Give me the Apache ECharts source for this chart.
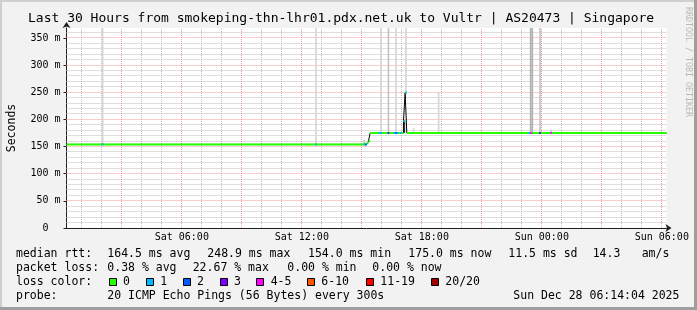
<!DOCTYPE html>
<html><head><meta charset="utf-8">
<script src="https://cdn.jsdelivr.net/npm/echarts@6/dist/echarts.min.js"></script>
<style>html,body{margin:0;padding:0;background:#f2f2f2}#c{width:697px;height:310px}</style>
</head><body><div id="c"></div>
<script>
// ---------- data ----------
const titleText = 'Last 30 Hours from smokeping-thn-lhr01.pdx.net.uk to Vultr | AS20473 | Singapore';
const xMinHour = 0.2344;          // Sat 00:14:04 (hours since Sat 00:00)
const xMaxHour = 30.2344;         // Sun 06:14:04
const stepHours = 1 / 12;         // 300 s step
const xLabelHours = [6, 12, 18, 24, 30];
const xLabelTexts = ['Sat 06:00', 'Sat 12:00', 'Sat 18:00', 'Sun 00:00', 'Sun 06:00'];
const xGridHours = [1,2,3,4,5,6,7,8,9,10,11,12,13,14,15,16,17,18,19,20,21,22,23,24,25,26,27,28,29,30];
const xMajorEvery = 3;
const yMax = 368.4;
const yMajorValues = [0, 50, 100, 150, 200, 250, 300, 350];
const yGridValues = [10,20,30,40,50,60,70,80,90,100,110,120,130,140,150,160,170,180,190,200,210,220,230,240,250,260,270,280,290,300,310,320,330,340,350,360];
const yUnit = 'm';
const yAxisName = 'Seconds';
// median rtt (ms) change points: [hour, ms]
const medianSteps = [
  [0.2344, 154], [15.25, 157], [15.3333, 160], [15.4167, 175],
  [17.0833, 197], [17.1667, 249], [17.25, 175], [30.2344, 175]
];
// loss-coloured median steps: [hour, ms, lossClass]
const lossSteps = [
  [2.0, 154, 1], [12.6667, 154, 1], [15.0833, 154, 1], [15.1667, 154, 2],
  [15.8333, 175, 1], [15.9167, 175, 1], [16.29, 175, 3],
  [16.5833, 175, 1], [16.6667, 175, 2], [16.75, 175, 1], [16.9167, 175, 1],
  [17.0833, 197, 1], [17.1667, 249, 1],
  [23.3333, 175, 1], [23.4167, 175, 4], [23.87, 175, 3], [24.4167, 175, 4]
];
// smoke: [hour, low ms, high ms, shade]
const smokeSteps = [
  [2.0, 154, 368.4, 0], [12.6667, 154, 368.4, 0], [15.0833, 154, 162, 1],
  [15.9167, 175, 368.4, 0], [16.29, 175, 368.4, 1], [16.6667, 175, 368.4, 0],
  [17.0833, 175, 197, 3], [17.1667, 249, 368.4, 0], [17.55, 175, 184, 0],
  [18.8, 175, 250, 0], [23.4, 175, 368.4, 2], [23.4833, 175, 368.4, 2],
  [23.87, 175, 368.4, 1], [24.4167, 175, 180, 1]
];
const smokeShades = ['#d6d6d6', '#c4c4c4', '#b0b0b0', '#3a3a3a'];
const lossColors = ['#26ff00', '#00b8ff', '#0059ff', '#7e00ff', '#ff00ff', '#ff5500', '#ff0000', '#a10000'];
const lossLabels = ['0', '1', '2', '3', '4-5', '6-10', '11-19', '20/20'];
const rttStats = ['164.5 ms avg', '248.9 ms max', '154.0 ms min', '175.0 ms now', '11.5 ms sd', '14.3', 'am/s'];
const lossStats = ['0.38 % avg', '22.67 % max', '0.00 % min', '0.00 % now'];
const probeText = '20 ICMP Echo Pings (56 Bytes) every 300s';
const dateText = 'Sun Dec 28 06:14:04 2025';
const watermark = 'RRDTOOL / TOBI OETIKER';

// ---------- layout / styles ----------
const MONO = '"DejaVu Sans Mono", monospace';
const minorGrid = '#bdbdbd';
const majorGrid = '#ee9a9a';

const gridItems = [];
xGridHours.forEach(h => gridItems.push([0, h, h % xMajorEvery === 0 ? 1 : 0]));
yGridValues.forEach(v => gridItems.push([1, v, yMajorValues.indexOf(v) >= 0 ? 1 : 0]));

const runs = [];
for (let i = 0; i < medianSteps.length - 1; i++) {
  runs.push([medianSteps[i][0], medianSteps[i + 1][0], medianSteps[i][1]]);
}

function txt(x, y, s, extra) {
  return Object.assign({
    type: 'text', x: x, y: y, silent: true,
    style: { text: s, font: '11.5px ' + MONO, fill: '#000', textVerticalAlign: 'middle', verticalAlign: 'middle' }
  }, extra || {});
}

const gfx = [];
gfx.push({ type: 'rect', shape: { x: 0, y: 0, width: 697, height: 2 }, style: { fill: '#cfcfcf' }, silent: true });
gfx.push({ type: 'rect', shape: { x: 0, y: 0, width: 2, height: 310 }, style: { fill: '#cfcfcf' }, silent: true });
gfx.push({ type: 'rect', shape: { x: 0, y: 307, width: 697, height: 3 }, style: { fill: '#9e9e9e' }, silent: true });
gfx.push({ type: 'rect', shape: { x: 694, y: 0, width: 3, height: 310 }, style: { fill: '#9e9e9e' }, silent: true });
gfx.push({ type: 'text', x: 688, y: 62, rotation: -Math.PI / 2, silent: true,
  style: { text: watermark, font: '8.3px ' + MONO, fill: '#b8b8b8', textAlign: 'center', align: 'center', textVerticalAlign: 'middle', verticalAlign: 'middle' } });
const r1 = 254.5, r2 = 268.5, r3 = 282.3, r4 = 296;
gfx.push(txt(16, r1, 'median rtt:'));
const r1x = [107.3, 207.3, 308, 408.3, 508.3, 592.7, 641.7];
rttStats.forEach((s, i) => gfx.push(txt(r1x[i], r1, s)));
gfx.push(txt(16, r2, 'packet loss:'));
const r2x = [107.3, 192.7, 287.3, 372.3];
lossStats.forEach((s, i) => gfx.push(txt(r2x[i], r2, s)));
gfx.push(txt(16, r3, 'loss color:'));
const swX = [108.5, 145.7, 182.5, 219.5, 256.2, 306.8, 365.8, 430.8];
lossLabels.forEach((s, i) => {
  gfx.push({ type: 'rect', silent: true, shape: { x: Math.round(swX[i]) + 0.5, y: Math.round(r3 - 4) + 0.5, width: 7, height: 7 },
    style: { fill: lossColors[i], stroke: '#000', lineWidth: 1 } });
  gfx.push(txt(swX[i] + 14.5, r3, s));
});
gfx.push(txt(16, r4, 'probe:'));
gfx.push(txt(107.3, r4, probeText));
gfx.push(txt(513.3, r4, dateText));

const chart = echarts.init(document.getElementById('c'), null, { renderer: 'canvas' });
chart.setOption({
  animation: false,
  backgroundColor: '#f2f2f2',
  title: {
    text: titleText, left: 28, top: 12, padding: 0,
    textStyle: { fontFamily: MONO, fontSize: 13, fontWeight: 'normal', color: '#000' }
  },
  grid: { left: 66.5, top: 28, width: 600, height: 200, show: true, backgroundColor: '#ffffff', borderWidth: 0,
    containLabel: false, outerBoundsMode: 'none' },
  xAxis: {
    type: 'value', min: xMinHour, max: xMaxHour,
    axisLine: { show: true, onZero: false, lineStyle: { color: '#1f1f1f', width: 1 }, symbol: ['none', 'arrow'], symbolSize: [6, 6], symbolOffset: [0, 5] },
    axisTick: { show: false },
    splitLine: { show: false },
    axisLabel: {
      customValues: xLabelHours, margin: 4, fontFamily: MONO, fontSize: 10, color: '#000',
      formatter: v => { const i = xLabelHours.findIndex(h => Math.abs(h - v) < 1e-6); return i >= 0 ? xLabelTexts[i] : ''; }
    }
  },
  yAxis: {
    type: 'value', min: 0, max: yMax, interval: 50,
    name: yAxisName, nameLocation: 'middle', nameRotate: 90, nameGap: 48.5, nameMoveOverlap: false,
    nameTextStyle: { fontFamily: MONO, fontSize: 11.5, color: '#000' },
    axisLine: { show: true, lineStyle: { color: '#1f1f1f', width: 1 }, symbol: ['none', 'arrow'], symbolSize: [6, 6], symbolOffset: [0, 6] },
    axisTick: { show: true, length: 3, lineStyle: { color: '#1f1f1f' } },
    splitLine: { show: false },
    axisLabel: {
      margin: 6, fontFamily: MONO, fontSize: 10, color: '#000', showMaxLabel: false,
      formatter: v => yMajorValues.indexOf(v) < 0 ? '' : (v === 0 ? '0  ' : v + ' ' + yUnit)
    }
  },
  graphic: { elements: gfx },
  series: [
    {
      name: 'grid', type: 'custom', z: 1, silent: true, data: gridItems,
      encode: { x: -1, y: -1 },
      renderItem: (params, api) => {
        const dir = api.value(0), v = api.value(1), major = api.value(2);
        let shape;
        if (dir === 0) {
          const a = api.coord([v, 0]), b = api.coord([v, yMax]);
          const x = Math.floor(a[0]) + 0.5;
          shape = { x1: x, y1: a[1], x2: x, y2: b[1] };
        } else {
          const a = api.coord([xMinHour, v]), b = api.coord([xMaxHour, v]);
          const y = Math.floor(a[1]) + 0.5;
          shape = { x1: a[0], y1: y, x2: b[0], y2: y };
        }
        return { type: 'line', shape: shape,
          style: { stroke: major ? majorGrid : minorGrid, lineWidth: 1, lineDash: [1, 1] } };
      }
    },
    {
      name: 'smoke', type: 'custom', z: 2, silent: true, data: smokeSteps,
      encode: { x: 0, y: [1, 2] },
      renderItem: (params, api) => {
        const t = api.value(0), lo = api.value(1), hi = api.value(2), sh = api.value(3);
        const p0 = api.coord([t, lo]), p1 = api.coord([t + stepHours, hi]);
        return { type: 'rect', shape: { x: p0[0], y: p1[1], width: p1[0] - p0[0], height: p0[1] - p1[1] },
          style: { fill: smokeShades[sh] } };
      }
    },
    {
      name: 'median', type: 'line', z: 3, step: 'end', data: medianSteps, symbol: 'none', silent: true,
      lineStyle: { color: '#000', width: 1 }
    },
    {
      name: 'median0', type: 'custom', z: 4, silent: true, data: runs,
      encode: { x: [0, 1], y: 2 },
      renderItem: (params, api) => {
        const a = api.coord([api.value(0), api.value(2)]), b = api.coord([api.value(1), api.value(2)]);
        return { type: 'line', shape: { x1: a[0], y1: a[1], x2: b[0], y2: b[1] }, style: { stroke: lossColors[0], lineWidth: 2 } };
      }
    },
    {
      name: 'loss', type: 'custom', z: 5, silent: true, data: lossSteps,
      encode: { x: 0, y: 1 },
      renderItem: (params, api) => {
        const t = api.value(0), v = api.value(1), li = api.value(2);
        const a = api.coord([t, v]), b = api.coord([t + stepHours, v]);
        return { type: 'line', shape: { x1: a[0], y1: a[1], x2: b[0], y2: b[1] }, style: { stroke: lossColors[li], lineWidth: 2 } };
      }
    }
  ]
});
</script></body></html>
